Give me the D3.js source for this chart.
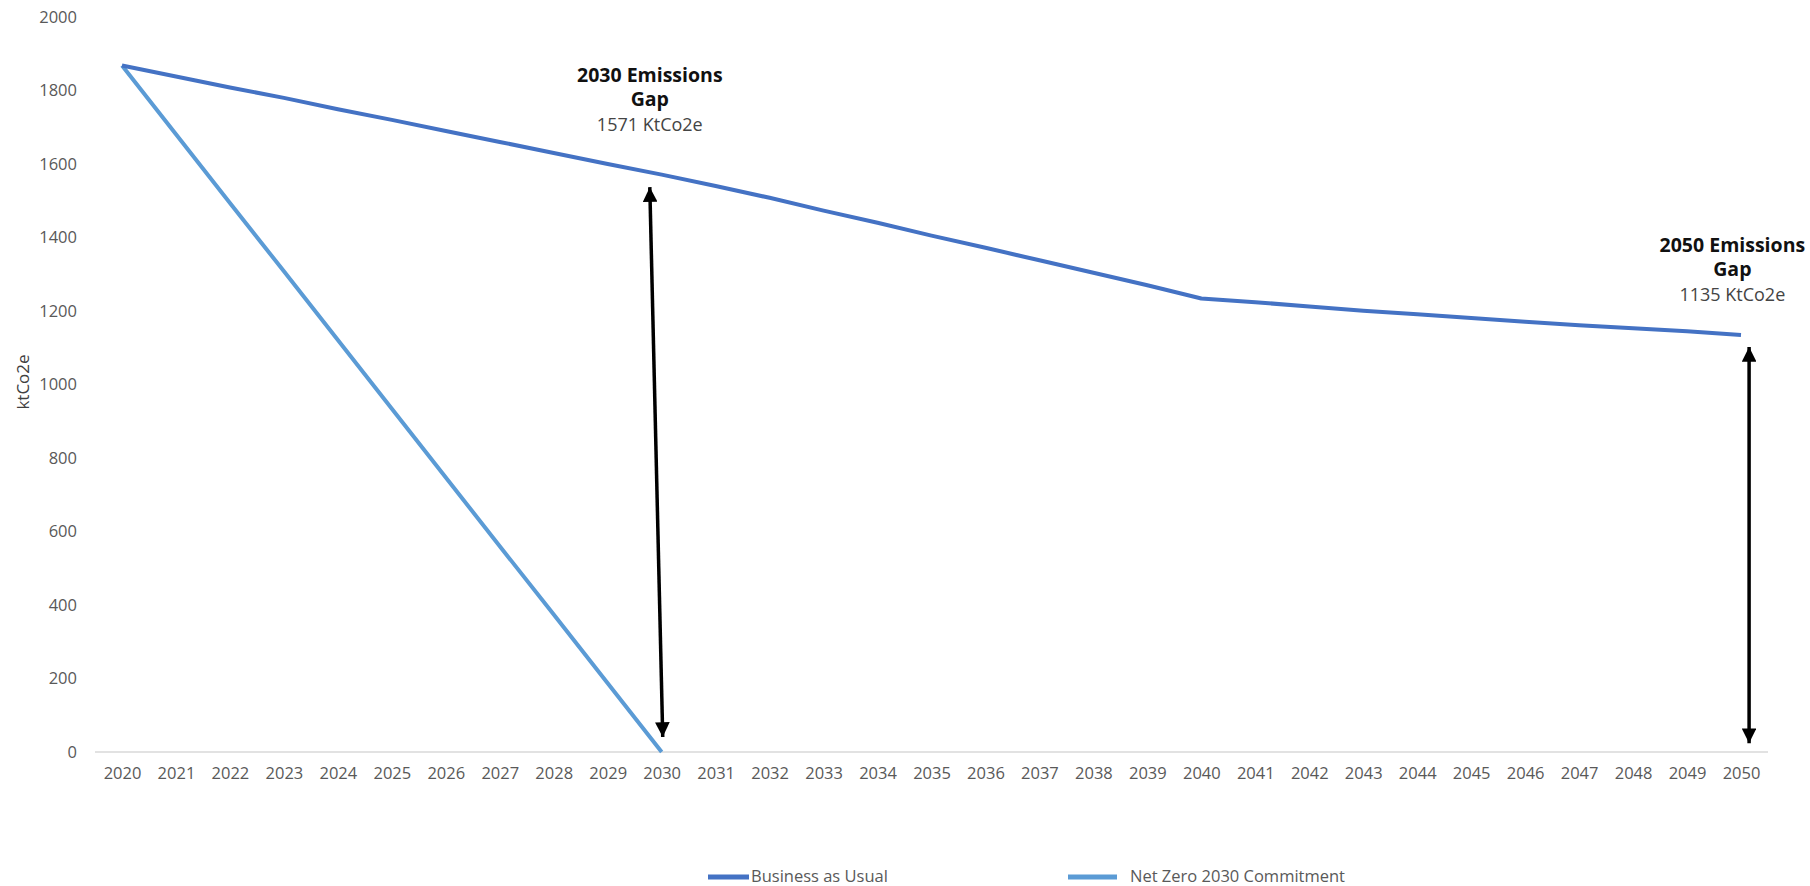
<!DOCTYPE html>
<html>
<head>
<meta charset="utf-8">
<script src="https://cdn.jsdelivr.net/npm/d3@7/dist/d3.min.js"></script>
<style>
  html, body { margin: 0; padding: 0; background: #fff; }
  svg { display: block; font-family: "Open Sans", "Noto Sans", sans-serif; }
</style>
</head>
<body>
<svg id="chart" width="1810" height="886"></svg>
<script>
// Emissions projections, ktCO2e per year
const years = d3.range(2020, 2051);
const businessAsUsual = [
  1868, 1838, 1808, 1780, 1749, 1720, 1690, 1660, 1630, 1600,
  1571, 1540, 1508, 1473, 1440, 1405, 1372, 1338, 1304, 1270,
  1234, 1224, 1212, 1201, 1191, 1181, 1171, 1161, 1153, 1145,
  1135
];
const netZero2030 = [1868, 1681, 1494, 1308, 1121, 934, 747, 560, 374, 187, 0];
const yTicks = [0, 200, 400, 600, 800, 1000, 1200, 1400, 1600, 1800, 2000];
const seriesNames = ["Business as Usual", "Net Zero 2030 Commitment"];
const seriesColors = ["#4472c4", "#5b9bd5"];

// Gap annotations: arrow ends in data units, plus label lines
const gaps = [
  { title: "2030 Emissions", sub: "Gap", value: "1571 KtCo2e",
    from: [2029.78, 1537], to: [2030.02, 41], labelYear: 2029.78, labelValue: 1822 },
  { title: "2050 Emissions", sub: "Gap", value: "1135 KtCo2e",
    from: [2050.15, 1102], to: [2050.15, 24], labelYear: 2049.84, labelValue: 1360 }
];

const svg = d3.select("#chart");

const x = d3.scaleLinear().domain([2020, 2050]).range([122, 1741]);
const y = d3.scaleLinear().domain([0, 2000]).range([752, 17]);

// baseline at zero
svg.append("line")
  .attr("x1", 95).attr("x2", 1768)
  .attr("y1", y(0)).attr("y2", y(0))
  .attr("stroke", "#d9d9d9").attr("stroke-width", 1.5);

// y axis labels
const yAxis = d3.axisLeft(y).tickValues(yTicks).tickSize(0).tickPadding(0).tickFormat(d3.format("d"));
const yg = svg.append("g").attr("transform", "translate(77,0)").call(yAxis);
yg.select(".domain").remove();
yg.selectAll("text")
  .attr("fill", "#595959").attr("font-size", 16.5)
  .attr("font-family", "'Open Sans', sans-serif");

// x axis labels
const xAxis = d3.axisBottom(x).tickValues(years).tickSize(0).tickPadding(0).tickFormat(d3.format("d"));
const xg = svg.append("g").attr("transform", "translate(0,767)").call(xAxis);
xg.select(".domain").remove();
xg.selectAll("text")
  .attr("fill", "#595959").attr("font-size", 16.5)
  .attr("font-family", "'Open Sans', sans-serif");

// y axis title
svg.append("text")
  .attr("transform", "translate(29,382) rotate(-90)")
  .attr("text-anchor", "middle")
  .attr("fill", "#404040").attr("font-size", 17)
  .text("ktCo2e");

// series lines
const line = d3.line().x((d, i) => x(years[i])).y(d => y(d));
svg.append("path").datum(netZero2030)
  .attr("d", line).attr("fill", "none")
  .attr("stroke", seriesColors[1]).attr("stroke-width", 4)
  .attr("stroke-linejoin", "round");
svg.append("path").datum(businessAsUsual)
  .attr("d", line).attr("fill", "none")
  .attr("stroke", seriesColors[0]).attr("stroke-width", 4)
  .attr("stroke-linejoin", "round");

// double-headed gap arrows
const defs = svg.append("defs");
defs.append("marker")
  .attr("id", "head").attr("viewBox", "0 0 10 10")
  .attr("refX", 10).attr("refY", 5)
  .attr("markerWidth", 4.2).attr("markerHeight", 4.2)
  .attr("markerUnits", "strokeWidth")
  .attr("orient", "auto-start-reverse")
  .append("path").attr("d", "M0,0 L10,5 L0,10 Z").attr("fill", "#000");

gaps.forEach(g => {
  svg.append("line")
    .attr("x1", x(g.from[0])).attr("y1", y(g.from[1]))
    .attr("x2", x(g.to[0])).attr("y2", y(g.to[1]))
    .attr("stroke", "#000").attr("stroke-width", 3.5)
    .attr("marker-start", "url(#head)")
    .attr("marker-end", "url(#head)");

  const t = svg.append("text")
    .attr("text-anchor", "middle")
    .attr("x", x(g.labelYear)).attr("y", y(g.labelValue));
  t.append("tspan").attr("x", x(g.labelYear)).attr("dy", 0)
    .attr("font-weight", 700).attr("font-size", 19.5).attr("fill", "#111")
    .text(g.title);
  t.append("tspan").attr("x", x(g.labelYear)).attr("dy", 23.5)
    .attr("font-weight", 700).attr("font-size", 19.5).attr("fill", "#111")
    .text(g.sub);
  t.append("tspan").attr("x", x(g.labelYear)).attr("dy", 25)
    .attr("font-size", 18).attr("fill", "#444")
    .text(g.value);
});

// legend
const legendItems = [
  { name: seriesNames[0], color: seriesColors[0], x1: 708, x2: 749, tx: 751 },
  { name: seriesNames[1], color: seriesColors[1], x1: 1068, x2: 1117, tx: 1130 }
];
const lg = svg.append("g");
legendItems.forEach(it => {
  lg.append("line")
    .attr("x1", it.x1).attr("x2", it.x2).attr("y1", 877).attr("y2", 877)
    .attr("stroke", it.color).attr("stroke-width", 5);
  lg.append("text")
    .attr("x", it.tx).attr("y", 882)
    .attr("fill", "#595959").attr("font-size", 16.5)
    .text(it.name);
});
</script>
</body>
</html>
